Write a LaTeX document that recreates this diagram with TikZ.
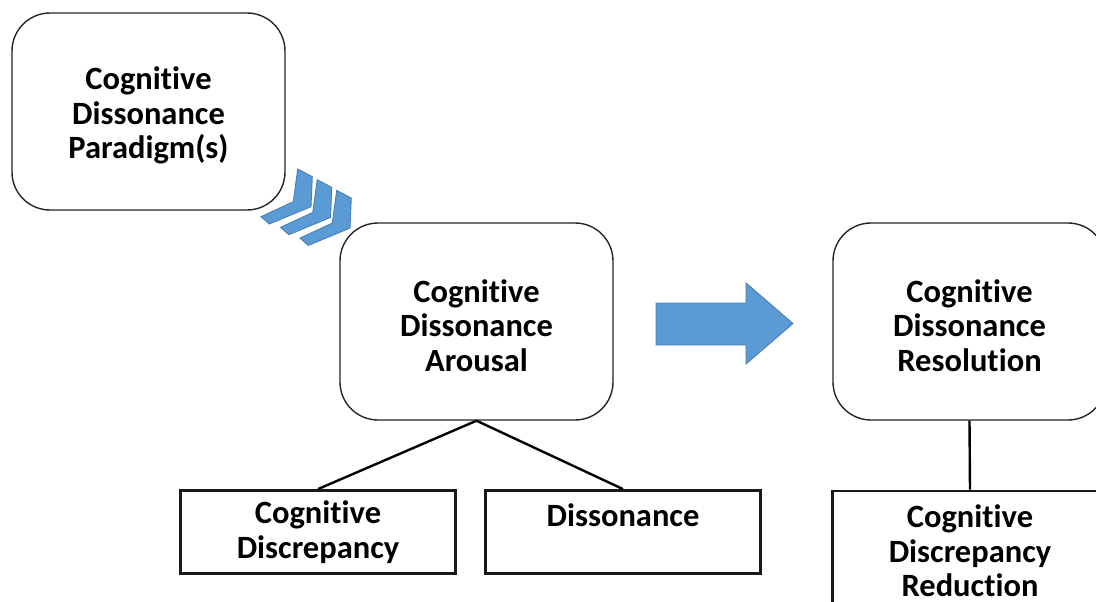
\documentclass[tikz,border=0pt]{standalone}
\usepackage{fontspec}
\setmainfont{Carlito}[Ligatures=NoCommon]
\begin{document}
\begin{tikzpicture}[x=1pt,y=-1pt,
  lbl/.style={font=\bfseries\fontsize{32.5}{34.5}\selectfont, align=center, text=black},
  stage/.style={draw=black!85, line width=1.4pt, rounded corners=38pt,
    minimum width=273pt, minimum height=197pt, inner sep=0pt,
    label={[lbl, yshift=-4pt]center:#1}},
  part/.style={lbl, draw=black!90, line width=2.8pt,
    minimum width=275pt, minimum height=83pt, inner sep=0pt},
  link/.style={draw=black, line width=2.4pt},
  blockfill/.style={fill=blueA, draw=blueB, line width=0.9pt, line join=miter}]
\definecolor{blueA}{HTML}{5B9BD5}
\definecolor{blueB}{HTML}{4A7FB5}
\clip (0,0) rectangle (1096,602);
\fill[white] (0,0) rectangle (1096,602);

% stages
\node[stage={Cognitive\\Dissonance\\Paradigm(s)}] (paradigm)   at (148.5,111.5) {};
\node[stage={Cognitive\\Dissonance\\Arousal}]     (arousal)    at (476.5,321.5) {};
\node[stage={Cognitive\\Dissonance\\Resolution}]  (resolution) at (969.5,321.5) {};

% components
\node[part] (discrepancy) at (318,532) {Cognitive\\Discrepancy};
\node[part] (dissonance)  at (623,532) {Dissonance\\\mbox{}};
\node[part, minimum height=120pt] (reduction) at (970,551) {Cognitive\\Discrepancy\\Reduction};

% tree links
\draw[link] (arousal.south) -- (discrepancy.north);
\draw[link] (arousal.south) -- (dissonance.north);
\draw[link] (resolution.south) -- (reduction.north);

% chevrons between paradigm and arousal
\foreach \i in {0,1,2}{
  \begin{scope}[shift={(19.5*\i,10.7*\i)}]
    \path[blockfill] (297.7,169) -- (312.3,176.7) -- (311,206.7) -- (269.3,224)
      -- (261,216.7) -- (293.3,201.7) -- cycle;
  \end{scope}
}

% block arrow between arousal and resolution
\path[blockfill] (656,303) -- (746,303) -- (746,283) -- (793,323.5) -- (746,364)
  -- (746,345) -- (656,345) -- cycle;
\end{tikzpicture}
\end{document}
